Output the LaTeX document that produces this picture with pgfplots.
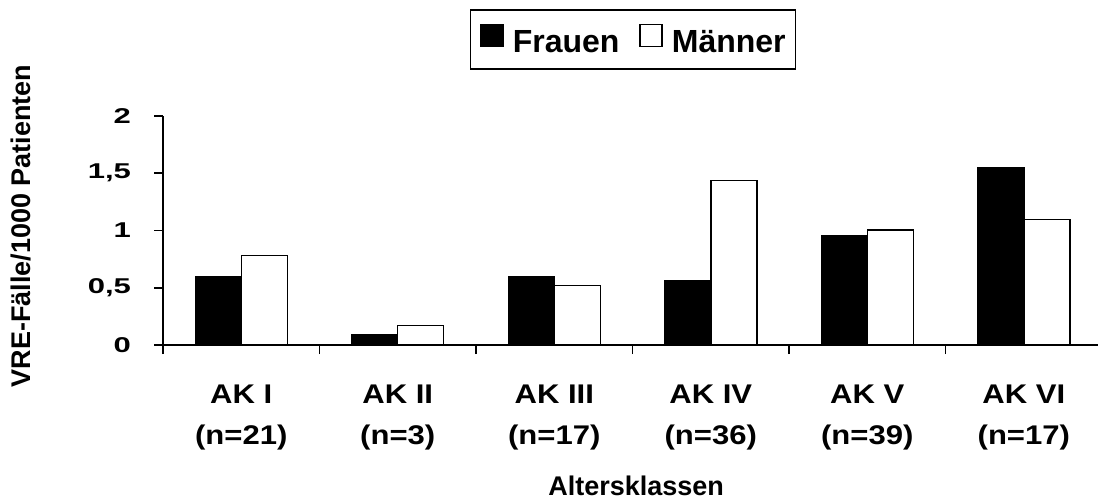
\documentclass[border=0pt]{standalone}
\usepackage{pgfplots}
\pgfplotsset{compat=1.18}
\usepackage{fontspec}
\setmainfont{Liberation Sans}
\newfontfamily\ytickfont{Liberation Sans Bold}[FakeStretch=1.45]
\newfontfamily\xtickfont{Liberation Sans Bold}[FakeStretch=1.15]
\newfontfamily\boldfont{Liberation Sans Bold}
\begin{document}
\begin{tikzpicture}[x=1pt,y=1pt]
\useasboundingbox (0,0) rectangle (549,250);
\begin{axis}[
  at={(81.5pt,77.5pt)}, anchor=south west,
  scale only axis, width=467.5pt, height=114.5pt,
  xmin=-0.5, xmax=5.474, ymin=0, ymax=2,
  axis x line=bottom, axis y line=left,
  axis line style={-, line width=0.85pt},
  every tick/.style={black, line width=0.85pt},
  tick align=outside,
  major tick length=4.5pt, minor tick length=4.5pt,
  ybar=0pt, bar width=23pt,
  xtick={0,1,2,3,4,5},
  xticklabels={{AK I\\(n=21)},{AK II\\(n=3)},{AK III\\(n=17)},{AK IV\\(n=36)},{AK V\\(n=39)},{AK VI\\(n=17)}},
  major x tick style={draw=none},
  minor xtick={-0.5,0.5,1.5,2.5,3.5,4.5},
  ytick={0,0.5,1,1.5,2},
  yticklabels={0,{0,5},1,{1,5},2},
  /pgf/number format/assume math mode=true,
  xticklabel style={font=\xtickfont\fontsize{13.5}{20.5}\selectfont, align=center, yshift=-12pt},
  yticklabel style={font=\ytickfont\fontsize{10.7}{12}\selectfont, xshift=-8pt},
  xlabel={Altersklassen},
  xlabel style={at={(axis description cs:0.506,-0.655)}, anchor=base, font=\boldfont\fontsize{13.5}{16}\selectfont},
  ylabel={VRE-Fälle/1000 Patienten},
  ylabel style={at={(axis description cs:-0.142,0.52)}, anchor=base, font=\boldfont\fontsize{13.5}{16}\selectfont},
  legend columns=2,
  legend style={at={(axis description cs:0.5027,1.334)}, anchor=center, draw=black, line width=0.8pt,
    font=\boldfont\fontsize{16}{18}\selectfont, inner xsep=5pt, inner ysep=7pt,
    nodes={inner xsep=0pt, inner ysep=0pt},
    /tikz/every odd column/.append style={column sep=4.5pt},
    /tikz/every even column/.append style={column sep=10pt}},
  legend image code/.code={\draw[#1, line width=0.7pt] (0pt,-2pt) rectangle (11pt,9pt);},
]
\addplot[fill=black, draw=black, line width=0.7pt] coordinates {(0,0.593) (1,0.090) (2,0.593) (3,0.558) (4,0.959) (5,1.550)};
\addplot[fill=white, draw=black, line width=0.7pt] coordinates {(0,0.782) (1,0.172) (2,0.521) (3,1.439) (4,1.006) (5,1.096)};
\legend{Frauen,Männer}
\end{axis}
\end{tikzpicture}
\end{document}
